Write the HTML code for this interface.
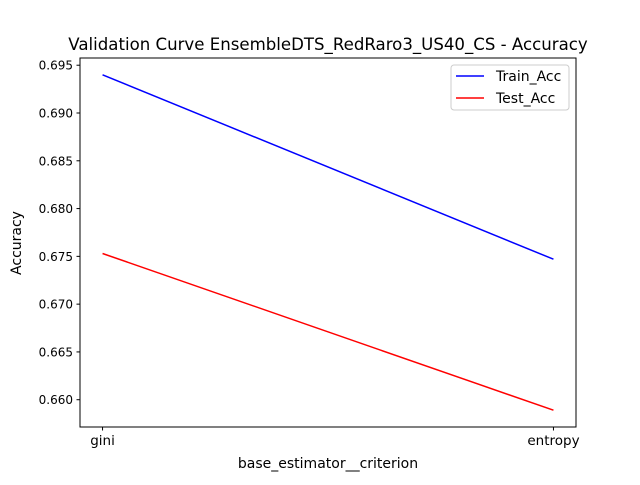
<!DOCTYPE html>
<html><head><meta charset="utf-8"><style>body{margin:0;background:#fff}svg{font-family:"DejaVu Sans","Liberation Sans",sans-serif}</style></head>
<body>
<svg id="chart" width="640" height="480"></svg>
<script>
const categories = ["gini", "entropy"];
const trainAcc = [0.6940, 0.6747];
const testAcc = [0.6753, 0.6589];
const yTicks = [0.660, 0.665, 0.670, 0.675, 0.680, 0.685, 0.690, 0.695];

const svg = document.getElementById('chart');
const NS = 'http://www.w3.org/2000/svg';
const L = 80, R = 576, T = 58, B = 427;
const all = trainAcc.concat(testAcc);
const mn = Math.min(...all), mx = Math.max(...all), pad = (mx - mn) * 0.05;
const y0 = mn - pad, y1 = mx + pad;
const xs = i => L + (R - L) * (i + 0.05) / ((categories.length - 1) + 0.1);
const ys = v => B - (B - T) * (v - y0) / (y1 - y0);
function el(tag, attrs, text) {
  const e = document.createElementNS(NS, tag);
  for (const k in attrs) e.setAttribute(k, attrs[k]);
  if (text !== undefined) e.textContent = text;
  svg.appendChild(e);
  return e;
}
let e;
e = el('rect', {x: L, y: T, width: R - L, height: B - T, fill: 'none', stroke: '#000', 'stroke-width': 1});


yTicks.forEach(t => {
  const y = ys(t);
  e = el('line', {x1: L - 3.5, x2: L, y1: y, y2: y, stroke: '#000'});
  
  
  e = el('text', {x: L - 7, y: y + 4.5, 'text-anchor': 'end', 'font-size': 12}, t.toFixed(3));
  
  
});
categories.forEach((c, i) => {
  const x = xs(i);
  e = el('line', {x1: x, x2: x, y1: B, y2: B + 3.5, stroke: '#000'});
  
  
  e = el('text', {x: x, y: B + 18, 'text-anchor': 'middle', 'font-size': 13.5}, c);
  
  
});
function series(vals, color, name) {
  const pts = vals.map((v, i) => xs(i) + ',' + ys(v)).join(' ');
  const p = el('polyline', {points: pts, fill: 'none', stroke: color, 'stroke-width': 1.5});
  
  
}
series(trainAcc, '#0000ff', 'train-acc-line');
series(testAcc, '#ff0000', 'test-acc-line');
e = el('text', {x: 328, y: 50, 'text-anchor': 'middle', 'font-size': 16.6}, 'Validation Curve EnsembleDTS_RedRaro3_US40_CS - Accuracy');


e = el('text', {x: 328, y: 468, 'text-anchor': 'middle', 'font-size': 14}, 'base_estimator__criterion');


e = el('text', {x: 21, y: 243, 'text-anchor': 'middle', 'font-size': 14, transform: 'rotate(-90 21 243)'}, 'Accuracy');


e = el('rect', {x: 451, y: 65, width: 118, height: 45, rx: 3, fill: '#fff', 'fill-opacity': 0.8, stroke: '#ccc'});


[['Train_Acc', '#0000ff', 76], ['Test_Acc', '#ff0000', 98]].forEach(([n, c, y]) => {
  e = el('line', {x1: 456, x2: 484, y1: y, y2: y, stroke: c, 'stroke-width': 1.5});
  
  
  e = el('text', {x: 496, y: y + 5, 'font-size': 14}, n);
  
  
});
</script>
</body></html>
